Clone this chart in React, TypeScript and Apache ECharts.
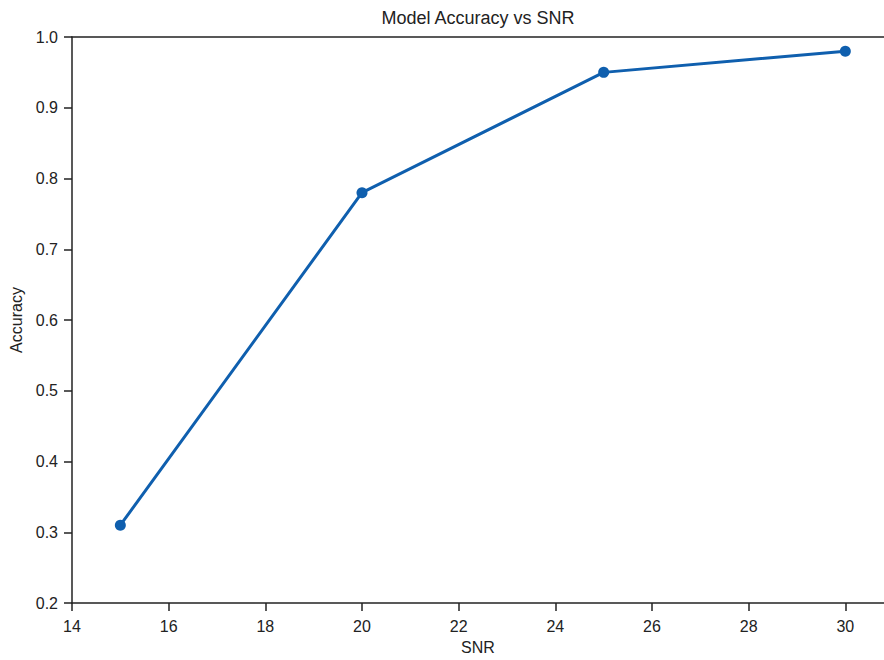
import React, { useEffect, useRef } from "react";
import * as echarts from "echarts";

const snr = [15, 20, 25, 30];
const accuracy = [0.31, 0.78, 0.95, 0.98];
const xTicks = [14, 16, 18, 20, 22, 24, 26, 28, 30];
const yTicks = [0.2, 0.3, 0.4, 0.5, 0.6, 0.7, 0.8, 0.9, 1.0];

export default function App() {
  const ref = useRef<HTMLDivElement>(null);
  useEffect(() => {
    if (!ref.current) return;
    const chart = echarts.init(ref.current, null, { renderer: "svg" });
    const font = "Liberation Sans, Arial, sans-serif";
    chart.setOption({
      animation: false,
      backgroundColor: "#ffffff",
      title: {
        text: "Model Accuracy vs SNR",
        left: 473,
        top: 4,
        textAlign: "center",
        textStyle: { fontFamily: font, fontSize: 18, fontWeight: "normal", color: "#222" },
      },
      grid: { left: 72, right: 0, top: 37, bottom: 55, containLabel: false },
      xAxis: [
        {
          type: "value",
          min: 14,
          max: 30.8,
          interval: 2,
          name: "SNR",
          nameLocation: "middle",
          nameGap: 36,
          nameTextStyle: { fontFamily: font, fontSize: 16, color: "#222" },
          axisLine: { show: true, lineStyle: { color: "#222", width: 1.5 } },
          axisTick: { show: true, length: 8, lineStyle: { color: "#222", width: 1.5 } },
          axisLabel: {
            fontFamily: font,
            fontSize: 16,
            color: "#222",
            margin: 15,
            showMaxLabel: false,
            formatter: (v: number) => (xTicks.includes(v) ? String(v) : ""),
          },
          splitLine: { show: false },
        },
        {
          type: "value",
          position: "top",
          min: 14,
          max: 30.8,
          axisLine: { show: true, lineStyle: { color: "#222", width: 1.5 } },
          axisTick: { show: false },
          axisLabel: { show: false },
          splitLine: { show: false },
        },
      ],
      yAxis: {
        type: "value",
        min: 0.2,
        max: 1.0,
        interval: 0.1,
        name: "Accuracy",
        nameLocation: "middle",
        nameGap: 48,
        nameTextStyle: { fontFamily: font, fontSize: 16, color: "#222" },
        axisLine: { show: true, lineStyle: { color: "#222", width: 1.5 } },
        axisTick: { show: true, length: 8, lineStyle: { color: "#222", width: 1.5 } },
        axisLabel: {
          fontFamily: font,
          fontSize: 16,
          color: "#222",
          margin: 14,
          formatter: (v: number) => {
            const r = Math.round(v * 10) / 10;
            return yTicks.some((t) => Math.abs(t - r) < 1e-9) ? r.toFixed(1) : "";
          },
        },
        splitLine: { show: false },
      },
      series: [
        {
          type: "line",
          xAxisIndex: 0,
          data: snr.map((x, i) => [x, accuracy[i]]),
          symbol: "circle",
          symbolSize: 11,
          lineStyle: { color: "#0f5fae", width: 3 },
          itemStyle: { color: "#0f5fae" },
        },
      ],
    });
    return () => chart.dispose();
  }, []);
  return (
    <div
      ref={ref}
      style={{ position: "fixed", left: 0, top: 0, width: 884, height: 660 }}
    />
  );
}
